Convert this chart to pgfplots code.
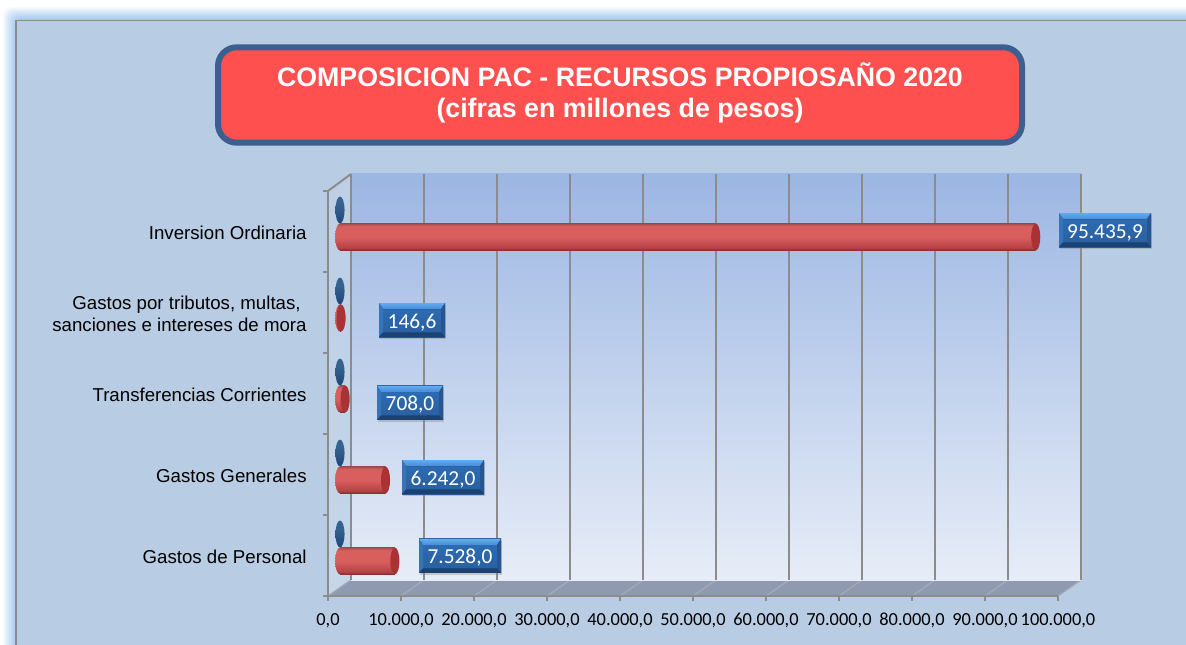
\documentclass[border=0pt]{standalone}
\usepackage{fontspec}
\setmainfont{Liberation Sans}
\newfontfamily\carlito{Carlito}
\usepackage{pgfplots}
\pgfplotsset{compat=1.18}
\usetikzlibrary{shadows}

\definecolor{chartbg}{HTML}{B8CCE4}
\definecolor{glow}{HTML}{A7C9F2}
\definecolor{gridgray}{HTML}{8C8C8C}
\definecolor{floorc}{HTML}{8F99B0}
\definecolor{floorline}{HTML}{A3A9B8}
\definecolor{titlefill}{HTML}{FF5050}
\definecolor{titleline}{HTML}{3C5F8F}
\definecolor{walltop}{HTML}{9CB6E3}
\definecolor{wallbot}{HTML}{E7EDF7}
\definecolor{redA}{HTML}{842A2D}
\definecolor{redB}{HTML}{D95F5E}
\definecolor{redC}{HTML}{A44A4C}
\definecolor{redD}{HTML}{B54244}
\definecolor{redcap}{HTML}{A83234}
\definecolor{blueA}{HTML}{1F4679}
\definecolor{blueB}{HTML}{35628F}
\definecolor{lblTop}{HTML}{2C6EB8}
\definecolor{lblBot}{HTML}{2A5E9C}
\definecolor{bevT}{HTML}{64AAF0}
\definecolor{bevTb}{HTML}{468CD7}
\definecolor{bevL}{HTML}{3773B9}
\definecolor{bevR}{HTML}{265591}
\definecolor{bevB}{HTML}{1C4273}

\pgfdeclareverticalshading{redcyl}{100bp}{color(0bp)=(redA);color(25bp)=(redA);color(30bp)=(redD);color(50bp)=(redB);color(70bp)=(redB);color(75bp)=(redC);color(100bp)=(redC)}
\pgfdeclareverticalshading{bluecyl}{100bp}{color(0bp)=(blueA);color(25bp)=(blueA);color(60bp)=(blueB);color(75bp)=(blueB);color(100bp)=(blueB)}

% end caps of the cylinders, 9px wide and 27px high
\pgfdeclareplotmark{capleft}{\pgfpathellipse{\pgfpointorigin}{\pgfqpoint{3.6pt}{0pt}}{\pgfqpoint{0pt}{10.1pt}}\pgfshadepath{redcyl}{0}\pgfusepath{discard}}
\pgfdeclareplotmark{capright}{\pgfpathellipse{\pgfpointorigin}{\pgfqpoint{3.4pt}{0pt}}{\pgfqpoint{0pt}{10.1pt}}\pgfsetfillcolor{redcap}\pgfusepathqfill}
\pgfdeclareplotmark{capblue}{\pgfpathellipse{\pgfpointorigin}{\pgfqpoint{3.4pt}{0pt}}{\pgfqpoint{0pt}{10.1pt}}\pgfshadepath{bluecyl}{0}\pgfusepath{discard}}

\tikzset{
  lbl/.style={
    minimum height=25.5pt, inner sep=0pt, text=white, text height=12pt, text depth=0pt,
    font=\carlito\fontsize{16}{16}\selectfont,
    drop shadow={opacity=.35,shadow xshift=1pt,shadow yshift=-1.5pt},
    top color=lblTop, bottom color=lblBot,
    path picture={
      \coordinate (nw) at (path picture bounding box.north west);
      \coordinate (ne) at (path picture bounding box.north east);
      \coordinate (sw) at (path picture bounding box.south west);
      \coordinate (se) at (path picture bounding box.south east);
      \fill[top color=bevT,bottom color=bevTb] (nw) -- (ne) -- ([shift={(-3pt,-4.5pt)}]ne) -- ([shift={(3pt,-4.5pt)}]nw) -- cycle;
      \fill[bevL] (nw) -- ([shift={(3pt,-4.5pt)}]nw) -- ([shift={(3pt,3.5pt)}]sw) -- (sw) -- cycle;
      \fill[bevR] (ne) -- ([shift={(-3pt,-4.5pt)}]ne) -- ([shift={(-3pt,3.5pt)}]se) -- (se) -- cycle;
      \fill[bevB] (sw) -- ([shift={(3pt,3.5pt)}]sw) -- ([shift={(-3pt,3.5pt)}]se) -- (se) -- cycle;
    }
  }
}
\pgfplotsset{redbar/.style={xbar,bar width=20.25pt,bar shift=0pt,draw=none,shading=redcyl,shading angle=0,forget plot}}

\begin{document}
\begin{tikzpicture}
% page, coordinates in pixels of the reference
\begin{scope}[x=0.75pt,y=-0.75pt]
  \path[use as bounding box] (0,0) rectangle (1186,645);
  \clip (0,0) rectangle (1186,645);
  \fill[white] (0,0) rectangle (1186,645);
  \foreach \i in {0,...,12} {
    \pgfmathsetmacro\op{(\i+1)*100/13}
    \fill[glow!\op!white,rounded corners=6pt] ({3+\i},{7+\i}) rectangle (1300,700);
  }
  \fill[chartbg,draw=gridgray,line width=1.1pt] (16,20.5) rectangle (1300,700);
  % title box
  \node[draw=titleline,line width=4.5pt,fill=titlefill,rounded corners=14pt,
        minimum width=603pt,minimum height=71.5pt,anchor=center] at (620,95) {};
  \node[text=white,align=center,font=\bfseries\fontsize{20.05}{23.2}\selectfont]
        at (620,93) {COMPOSICION PAC - RECURSOS PROPIOSAÑO 2020\\(cifras en millones de pesos)};
  % side wall and floor of the 3D box
  \fill[top color=chartbg!95!white,bottom color=chartbg!80!white] (328,191) -- (351,174) -- (351,580) -- (328,596) -- cycle;
  \fill[floorc] (328,596) -- (351,580) -- (1081,580) -- (1058,596) -- cycle;
  \foreach \k in {0,...,10}
    \draw[floorline,line width=1pt] ({328+73*\k},596) -- ({351+73*\k},580);
  \draw[gridgray,line width=1.5pt] (328,191) -- (351,174);
\end{scope}

% back wall with the gridlines
\begin{axis}[
    at={(351*0.75pt,-580*0.75pt)}, anchor=south west,
    scale only axis, width=547.5pt, height=304.5pt,
    xmin=0, xmax=100000, ymin=0, ymax=1,
    xtick={0,10000,...,100000}, ytick=\empty, xticklabels={},
    scaled x ticks=false,
    xmajorgrids, major tick length=0pt,
    grid style={gridgray,line width=1.5pt},
    axis line style={draw=none},
    axis background/.style={top color=walltop,bottom color=wallbot},
]
\end{axis}

% front axis with ticks and labels
\begin{axis}[
    at={(328*0.75pt,-596*0.75pt)}, anchor=south west,
    scale only axis, width=547.5pt, height=303.75pt,
    xmin=0, xmax=100000, ymin=-0.5, ymax=4.5,
    axis x line*=bottom, axis y line*=left,
    axis line style={gridgray,line width=1.5pt},
    xtick={0,10000,...,100000},
    scaled x ticks=false,
    tick align=outside,
    major tick style={gridgray,line width=1.2pt},
    minor tick style={gridgray,line width=1.2pt},
    ytick={0,1,2,3,4},
    minor ytick={-0.5,0.5,1.5,2.5,3.5,4.5},
    major x tick style={gridgray,line width=1.2pt},
    major y tick style={draw=none},
    minor tick length=3.5pt,
    major tick length=3.5pt,
    yticklabels={Gastos de Personal,Gastos Generales,Transferencias Corrientes,{Gastos por tributos, multas,\hspace*{4.5pt}\\ sanciones e intereses de mora},Inversion Ordinaria},
    yticklabel style={font=\fontsize{14}{16.5}\selectfont,align=right,xshift=-9pt,yshift=-0.8pt},
    xticklabel style={font=\carlito\fontsize{13.8}{14}\selectfont,yshift=-6pt},
    /pgf/number format/.cd, assume math mode=true, fixed, fixed zerofill, precision=1, use comma, 1000 sep={.},
]
\end{axis}

% the bars
\begin{axis}[
    at={(340*0.75pt,-601.5*0.75pt)}, anchor=south west,
    scale only axis, width=546.75pt, height=303.75pt,
    xmin=0, xmax=100000, ymin=-0.5, ymax=4.5,
    hide axis, clip=false,
]
  % blue series, all zero: only its disc shows
  \addplot[only marks,mark=capblue] coordinates {(0,0.333) (0,1.333) (0,2.333) (0,3.333) (0,4.333)};
  % start of the red cylinders
  \addplot[only marks,mark=capleft] coordinates {(0,0) (0,1) (0,2) (0,3) (0,4)};
  % red series, one plot per bar or the shading runs over all of them
  \addplot[redbar] coordinates {(7528.0,0)};
  \addplot[redbar] coordinates {(6242.0,1)};
  \addplot[redbar] coordinates {(708.0,2)};
  \addplot[redbar] coordinates {(146.6,3)};
  \addplot[redbar] coordinates {(95435.9,4)};
  \addplot[only marks,mark=capright] coordinates {(7528.0,0) (6242.0,1) (708.0,2) (146.6,3) (95435.9,4)};
  % data labels, moved by hand in the reference
  \node[lbl,minimum width=69pt] at (axis cs:104938,4.086) {95.435,9};
  \node[lbl,minimum width=49.5pt] at (axis cs:9877,2.975) {146,6};
  \node[lbl,minimum width=49.5pt] at (axis cs:9602,1.951) {708,0};
  \node[lbl,minimum width=61.5pt] at (axis cs:14129,1.037) {6.242,0};
  \node[lbl,minimum width=61.5pt] at (axis cs:16461,0.062) {7.528,0};
\end{axis}
\end{tikzpicture}
\end{document}
